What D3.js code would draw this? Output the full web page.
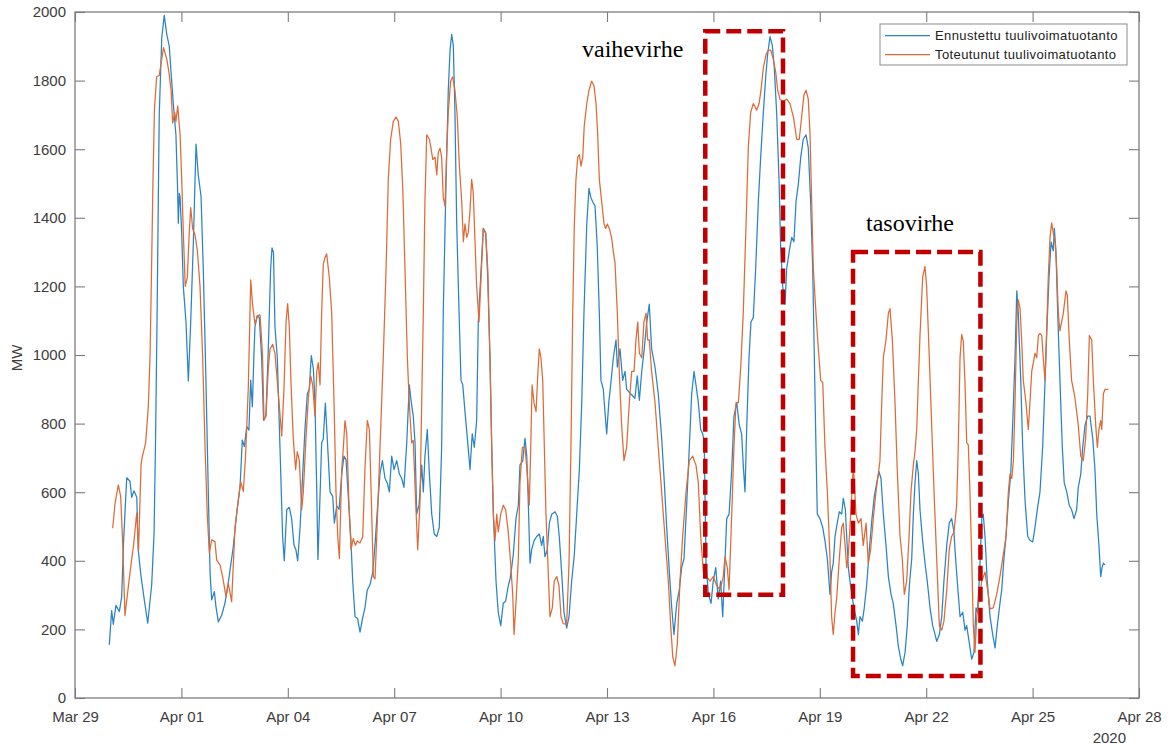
<!DOCTYPE html>
<html>
<head>
<meta charset="utf-8">
<script src="https://cdn.jsdelivr.net/npm/d3@7"></script>
<style>
  html, body { margin: 0; padding: 0; background: #fff; }
  svg { display: block; font-family: "Liberation Sans", Arial, Helvetica, sans-serif; }
</style>
</head>
<body>
<svg id="chart" width="1175" height="745"></svg>
<script>
// Wind power in Finland, hours counted from 29 Mar 2020 00:00 (UTC), values in MW

// Forecast (Ennustettu)
const forecastHours = [
  23.2, 24.8, 25.9, 27.7, 30.0, 31.6, 32.8, 35.0, 37.2, 38.4, 39.9, 41.8, 42.8, 44.7, 46.9, 49.2,
  51.9, 53.5, 54.5, 55.5, 57.0, 58.7, 60.4, 62.1, 63.8, 65.0, 66.5, 68.3, 69.5, 69.9, 70.6, 71.1,
  72.2, 73.3, 75.1, 76.7, 78.3, 80.1, 81.9, 83.4, 85.3, 86.8, 88.6, 90.2, 91.4, 92.5, 94.3, 95.4,
  97.0, 99.3, 101.5, 103.7, 107.1, 109.4, 111.7, 113.2, 114.6, 116.2, 117.7, 118.9, 120.0, 121.1, 121.8, 123.4,
  124.7, 126.3, 127.6, 129.2, 130.8, 132.4, 133.3, 134.3, 135.3, 136.9, 138.7, 140.5, 141.6, 143.3, 145.0, 146.6,
  148.2, 149.5, 150.7, 152.3, 153.8, 155.6, 157.2, 158.5, 159.9, 161.3, 162.4, 163.6, 164.4, 165.8, 166.9, 168.0,
  169.4, 170.7, 172.6, 174.4, 175.5, 177.1, 178.7, 180.5, 182.0, 183.4, 184.9, 186.6, 187.9, 189.5, 191.2, 192.9,
  194.7, 196.2, 197.8, 199.6, 201.5, 203.0, 204.6, 206.4, 208.0, 209.8, 211.3, 212.7, 214.3, 215.9, 217.7, 219.5,
  221.1, 222.6, 224.5, 226.2, 227.6, 228.9, 230.1, 231.2, 232.8, 234.6, 235.7, 236.8, 238.4, 239.8, 241.4, 243.1,
  244.8, 246.5, 248.1, 249.2, 251.1, 252.6, 253.8, 254.9, 256.0, 257.1, 258.3, 259.9, 261.2, 262.4, 263.9, 265.5,
  267.3, 268.8, 270.2, 271.8, 272.9, 274.5, 276.3, 277.9, 279.3, 280.8, 282.0, 283.1, 284.9, 286.4, 288.1, 289.8,
  291.4, 293.2, 294.4, 295.5, 296.6, 298.4, 300.0, 301.1, 303.0, 304.5, 305.7, 306.7, 307.9, 309.0, 310.6, 312.4,
  314.2, 315.8, 316.9, 318.0, 319.6, 321.0, 322.6, 324.8, 326.4, 327.7, 329.3, 330.9, 332.7, 334.3, 336.1, 337.9,
  339.5, 341.3, 342.9, 344.4, 346.3, 347.8, 349.0, 350.3, 351.9, 353.4, 354.8, 355.9, 357.5, 358.6, 359.8, 361.2,
  362.5, 364.3, 366.1, 367.0, 368.8, 370.6, 372.2, 373.3, 376.0, 378.9, 380.5, 381.9, 383.5, 385.2, 386.9, 388.6,
  390.2, 392.5, 394.7, 397.0, 398.8, 400.4, 402.2, 403.8, 405.3, 407.2, 408.9, 410.5, 412.1, 413.9, 415.7, 417.3,
  418.9, 420.2, 421.8, 423.4, 424.8, 425.8, 427.0, 428.6, 430.4, 431.9, 433.6, 435.3, 436.9, 438.3, 439.8, 441.0,
  442.6, 444.4, 445.9, 447.8, 449.5, 451.1, 452.2, 453.4, 454.5, 456.1, 457.4, 459.0, 460.6, 462.4, 464.0, 465.8,
  467.4, 468.7, 470.3, 471.9, 473.2, 474.8, 476.4, 477.5, 478.9, 480.5, 481.6, 483.4, 485.0, 486.5, 487.9, 489.5,
  491.1, 492.8, 494.7, 496.2, 497.8, 499.2, 500.3, 501.4, 502.3, 504.1, 506.0, 507.5, 509.1, 510.9, 512.0, 513.1,
  514.3, 515.8, 517.2, 518.8, 519.9, 521.3, 522.2, 523.3, 524.4, 525.6, 527.1, 529.0, 530.1, 531.2, 532.8, 534.1,
  535.7, 537.5, 539.3, 540.9, 542.5, 544.1, 545.4, 547.0, 548.8, 550.4, 552.2, 553.7, 555.6, 557.1, 558.8, 560.1,
  561.7, 563.2, 564.6, 566.2, 567.3, 568.4, 569.6, 570.7, 571.8, 573.6, 575.2, 576.7, 578.6, 580.4, 582.0, 583.1,
  584.9, 586.5, 588.0, 589.9, 591.6, 593.2, 594.8, 595.5, 597.0, 598.9, 600.7, 602.3, 603.4, 605.2, 606.8, 608.3,
  609.7, 610.6, 611.9, 613.6, 614.6, 615.8, 617.3, 619.2, 621.0, 622.6, 624.1, 625.9, 627.1, 628.6, 630.0, 631.6,
  633.2, 634.5, 636.1, 637.3, 638.3, 640.0, 641.3, 642.9, 644.7, 646.2, 648.1, 649.6, 651.2, 653.0, 654.8, 655.9,
  657.5, 659.1, 660.5, 662.0, 662.7, 663.8, 665.0, 666.5, 668.1, 669.4, 671.1, 672.8, 674.4, 676.0, 677.8, 678.9,
  680.6, 681.9, 683.5, 685.3, 686.8, 688.7, 690.2, 691.4, 692.9, 694.1, 695.0, 695.9, 697.0
];
const forecastMW = [
  155, 255, 215, 270, 252, 295, 450, 642, 632, 585, 604, 585, 431, 354, 286, 218,
  330, 480, 750, 1100, 1700, 1925, 1990, 1935, 1900, 1825, 1733, 1642, 1473, 1384, 1471, 1460,
  1356, 1200, 1096, 924, 1096, 1330, 1615, 1525, 1462, 1252, 926, 601, 364, 286, 310, 266,
  222, 242, 277, 335, 441, 538, 616, 752, 733, 791, 781, 927, 849, 1005, 1083, 1115,
  1109, 992, 810, 822, 1018, 1252, 1312, 1300, 1083, 992, 731, 471, 400, 549, 556, 523,
  445, 432, 400, 497, 627, 783, 887, 900, 998, 960, 861, 601, 404, 588, 744, 755,
  860, 757, 601, 588, 510, 560, 550, 653, 705, 695, 590, 471, 341, 237, 232, 192,
  235, 263, 315, 330, 367, 445, 549, 655, 692, 640, 627, 601, 705, 666, 692, 653,
  640, 614, 744, 913, 861, 822, 744, 536, 562, 679, 601, 705, 783, 653, 536, 478,
  471, 497, 731, 1122, 1512, 1772, 1889, 1935, 1902, 1707, 1382, 1122, 926, 913, 835, 757,
  666, 770, 731, 809, 1096, 1226, 1369, 1356, 1226, 992, 731, 536, 341, 250, 211, 276,
  282, 328, 347, 380, 419, 523, 562, 679, 692, 757, 705, 575, 393, 432, 458, 471,
  478, 445, 471, 412, 432, 510, 536, 543, 530, 471, 367, 250, 204, 237, 341, 419,
  536, 666, 861, 1122, 1382, 1486, 1460, 1447, 1434, 1317, 1122, 926, 900, 835, 770, 861,
  913, 992, 1044, 965, 1018, 926, 952, 900, 887, 874, 939, 868, 952, 1018, 1096, 1148,
  1018, 965, 887, 757, 627, 497, 367, 263, 185, 276, 315, 380, 406, 562, 731, 887,
  952, 913, 861, 783, 770, 744, 393, 302, 276, 341, 380, 289, 341, 237, 393, 523,
  536, 666, 822, 861, 796, 770, 679, 601, 783, 992, 1096, 1109, 1252, 1447, 1577, 1707,
  1811, 1876, 1928, 1902, 1837, 1707, 1512, 1317, 1200, 1148, 1252, 1304, 1343, 1330, 1447, 1499,
  1577, 1629, 1642, 1603, 1447, 1252, 992, 731, 536, 523, 497, 458, 406, 302, 367, 393,
  471, 510, 543, 536, 582, 549, 471, 380, 341, 302, 263, 224, 185, 237, 224, 263,
  328, 432, 523, 588, 627, 660, 640, 536, 445, 354, 302, 276, 211, 152, 113, 94,
  133, 211, 328, 406, 536, 627, 692, 653, 549, 458, 393, 341, 263, 211, 185, 165,
  185, 237, 341, 445, 510, 523, 484, 432, 341, 237, 250, 198, 211, 159, 113, 133,
  263, 250, 341, 523, 536, 471, 341, 237, 185, 146, 211, 276, 315, 406, 471, 575,
  653, 796, 992, 1187, 1122, 926, 731, 575, 471, 460, 455, 497, 549, 601, 731, 861,
  1057, 1226, 1330, 1304, 1369, 1304, 1122, 926, 731, 627, 601, 562, 549, 523, 549, 614,
  653, 731, 796, 822, 822, 757, 666, 536, 445, 354, 380, 393, 388
];

// Actual production (Toteutunut)
const actualHours = [
  25.5, 27.1, 29.3, 30.9, 32.3, 33.8, 36.1, 38.4, 39.5, 41.8, 43.0, 44.7, 45.5, 47.8, 49.6, 50.8,
  51.8, 52.8, 53.8, 55.3, 57.0, 58.7, 59.9, 62.1, 63.6, 65.0, 66.1, 67.5, 68.3, 69.5, 71.1, 72.2,
  73.3, 74.6, 76.0, 77.3, 78.3, 79.6, 81.2, 82.8, 84.6, 86.4, 88.0, 89.5, 90.9, 92.5, 94.7, 95.9,
  98.1, 99.9, 102.2, 103.7, 106.0, 108.3, 110.5, 112.1, 113.9, 115.5, 117.3, 118.9, 120.1, 121.8, 123.4, 125.2,
  126.9, 127.9, 129.2, 130.8, 132.0, 133.8, 135.3, 137.6, 139.9, 141.4, 142.8, 143.9, 145.0, 146.2, 147.7, 149.3,
  150.4, 151.8, 153.4, 154.5, 156.3, 157.9, 159.5, 160.8, 162.4, 163.6, 164.6, 165.8, 166.9, 168.0, 169.2, 170.3,
  172.1, 173.7, 175.3, 176.6, 177.8, 178.9, 180.5, 181.6, 182.7, 183.9, 185.4, 186.8, 188.3, 189.7, 191.0, 192.9,
  194.7, 196.2, 197.8, 199.2, 200.8, 201.9, 203.0, 204.2, 206.4, 208.6, 210.5, 212.0, 213.6, 215.4, 217.2, 218.8,
  220.4, 221.8, 223.3, 224.9, 226.2, 227.8, 228.9, 230.5, 231.9, 233.5, 234.6, 235.7, 236.8, 238.0, 239.8, 240.9,
  242.1, 243.6, 244.8, 245.8, 247.0, 248.1, 249.2, 250.4, 251.5, 252.6, 254.2, 255.6, 257.1, 258.7, 260.1, 261.7,
  262.8, 263.9, 265.1, 266.1, 267.3, 268.4, 269.5, 270.7, 271.8, 273.4, 274.5, 276.3, 277.9, 279.3, 280.8, 282.0,
  283.1, 284.2, 285.4, 286.4, 288.1, 289.8, 291.4, 293.2, 294.8, 296.2, 297.1, 298.4, 300.0, 301.1, 302.7, 304.5,
  306.1, 307.4, 308.4, 309.3, 310.6, 312.0, 313.1, 314.2, 315.3, 316.5, 317.6, 318.7, 319.9, 321.4, 323.0, 324.3,
  326.0, 327.5, 328.9, 330.4, 332.7, 334.3, 335.6, 336.8, 337.9, 339.0, 340.2, 341.3, 342.4, 343.6, 344.6, 346.3,
  347.8, 349.6, 351.2, 352.6, 353.7, 354.8, 356.4, 358.0, 359.1, 360.2, 361.6, 363.2, 364.3, 365.4, 367.0, 368.3,
  369.9, 371.5, 373.3, 375.1, 376.7, 378.3, 379.6, 380.8, 381.9, 383.5, 385.0, 386.4, 387.5, 388.6, 390.2, 392.5,
  394.7, 397.0, 399.2, 401.5, 403.1, 404.5, 406.0, 407.6, 409.4, 411.2, 413.5, 415.7, 418.0, 420.2, 421.8, 423.4,
  425.2, 427.5, 429.7, 431.9, 434.2, 436.5, 438.7, 439.8, 441.4, 442.6, 444.4, 445.9, 447.3, 448.9, 450.5, 452.2,
  454.1, 455.6, 457.2, 459.0, 461.3, 462.9, 464.2, 465.8, 467.6, 469.2, 470.8, 472.5, 474.2, 475.5, 477.1, 479.3,
  481.6, 483.8, 486.1, 488.4, 490.1, 491.7, 493.3, 494.7, 496.2, 497.4, 498.5, 499.6, 501.4, 503.0, 504.6, 506.0,
  507.5, 509.1, 510.9, 512.0, 513.1, 514.3, 515.4, 517.2, 518.8, 519.9, 521.1, 522.2, 523.3, 524.4, 526.7, 528.5,
  530.1, 531.9, 533.4, 535.3, 536.8, 538.4, 540.2, 542.0, 543.6, 544.7, 545.9, 547.0, 548.8, 550.4, 551.5, 553.1,
  554.9, 556.4, 558.3, 559.8, 561.2, 562.8, 564.4, 565.7, 567.3, 568.4, 569.6, 570.7, 571.8, 573.6, 575.2, 576.3,
  578.1, 579.7, 581.3, 583.1, 584.9, 586.5, 588.0, 589.9, 591.6, 593.2, 594.8, 596.6, 597.7, 598.9, 600.0, 601.1,
  602.3, 603.4, 604.5, 605.6, 606.8, 607.9, 609.0, 610.2, 611.9, 613.6, 615.8, 618.0, 619.2, 621.4, 623.7, 625.9,
  628.2, 630.0, 631.6, 632.7, 633.9, 635.0, 636.1, 637.3, 638.3, 639.5, 640.6, 641.7, 643.5, 645.1, 646.2, 647.4,
  648.5, 649.6, 650.8, 651.9, 653.0, 654.2, 655.2, 656.4, 657.5, 658.6, 659.8, 660.9, 662.0, 663.2, 664.3, 665.4,
  666.5, 668.8, 670.6, 671.5, 672.8, 674.4, 676.7, 678.9, 680.6, 682.3, 683.9, 685.3, 686.4, 688.0, 689.1, 690.7,
  691.8, 692.9, 694.1, 694.8, 695.9, 697.0, 699.2
];
const actualMW = [
  495, 567, 621, 588, 450, 240, 325, 406, 441, 540, 431, 680, 703, 743, 849, 1000,
  1250, 1520, 1720, 1812, 1815, 1863, 1896, 1863, 1824, 1772, 1676, 1707, 1681, 1726, 1642, 1512,
  1356, 1200, 1226, 1356, 1430, 1369, 1350, 1304, 1200, 992, 731, 536, 422, 461, 456, 402,
  388, 354, 295, 335, 281, 499, 577, 631, 602, 713, 908, 1219, 1150, 1090, 1115, 1117,
  1000, 810, 822, 960, 1018, 1031, 1005, 887, 764, 900, 1096, 1150, 1083, 913, 757, 666,
  718, 692, 549, 601, 757, 874, 939, 913, 822, 952, 978, 913, 1122, 1265, 1284, 1295,
  1226, 1122, 861, 601, 471, 406, 666, 731, 809, 770, 562, 432, 465, 445, 458, 452,
  471, 666, 809, 783, 536, 354, 347, 471, 731, 992, 1252, 1512, 1629, 1681, 1694, 1681,
  1616, 1486, 1252, 992, 861, 744, 751, 575, 432, 575, 861, 1122, 1447, 1642, 1629, 1603,
  1570, 1577, 1525, 1590, 1603, 1577, 1460, 1434, 1590, 1707, 1798, 1811, 1772, 1694, 1551, 1447,
  1330, 1382, 1343, 1356, 1421, 1512, 1473, 1330, 1200, 1096, 1200, 1369, 1356, 1252, 992, 731,
  536, 458, 536, 484, 536, 562, 549, 484, 393, 302, 185, 276, 406, 627, 731, 731,
  653, 562, 731, 913, 861, 835, 939, 1018, 992, 926, 731, 536, 406, 237, 263, 341,
  354, 328, 237, 217, 215, 393, 731, 1122, 1382, 1512, 1577, 1584, 1551, 1577, 1668, 1733,
  1772, 1798, 1785, 1733, 1642, 1512, 1447, 1382, 1369, 1382, 1369, 1340, 1300, 1270, 1122, 952,
  796, 692, 731, 861, 952, 952, 1044, 1096, 1005, 992, 1096, 1122, 1044, 1044, 952, 861,
  731, 601, 471, 341, 211, 120, 94, 159, 341, 471, 601, 692, 705, 679, 627, 471,
  367, 354, 341, 354, 328, 315, 354, 412, 380, 315, 536, 731, 861, 861, 965, 1122,
  1382, 1603, 1707, 1733, 1714, 1733, 1772, 1837, 1876, 1889, 1889, 1863, 1824, 1772, 1745, 1740,
  1746, 1733, 1694, 1629, 1629, 1694, 1759, 1772, 1746, 1642, 1447, 1252, 1122, 1018, 926, 920,
  731, 601, 406, 237, 185, 250, 289, 406, 497, 510, 445, 380, 419, 497, 679, 536,
  510, 523, 445, 510, 393, 432, 523, 601, 653, 692, 861, 992, 1044, 1122, 1135, 1044,
  861, 666, 471, 406, 302, 341, 471, 601, 679, 718, 783, 926, 1057, 1226, 1258, 1200,
  992, 796, 601, 406, 211, 198, 224, 315, 432, 471, 484, 562, 731, 992, 1060, 1040,
  913, 744, 738, 601, 406, 211, 133, 237, 289, 341, 367, 302, 260, 263, 302, 354,
  419, 471, 601, 653, 640, 692, 861, 1096, 1161, 1135, 1044, 926, 861, 783, 861, 952,
  978, 1005, 992, 1057, 1063, 1057, 992, 926, 1070, 1226, 1343, 1385, 1356, 1330, 1252, 1122,
  1070, 1122, 1187, 1174, 1044, 926, 874, 796, 705, 692, 757, 887, 1057, 1044, 926, 796,
  731, 783, 809, 783, 887, 900, 900
];

const seriesNames = ["Ennustettu tuulivoimatuotanto", "Toteutunut tuulivoimatuotanto"];
const yTickValues = [0, 200, 400, 600, 800, 1000, 1200, 1400, 1600, 1800, 2000];
const xTickDays = [0, 3, 6, 9, 12, 15, 18, 21, 24, 27, 30];

// Highlighted error regions: hour span and MW span, with label anchor
const errorRegions = [
  { label: "vaihevirhe", h0: 426.5, h1: 479.1, v0: 301, v1: 1944, labelH: 343.1, labelV: 1869 },
  { label: "tasovirhe",  h0: 526.5, h1: 612.7, v0: 64,  v1: 1300, labelH: 535.3, labelV: 1361 }
];

// ---------------------------------------------------------------
const colors = ["#2a84c3", "#dd6b37"];
const axisColor = "#7d7d7d";
const textColor = "#3c3c3c";
const plot = { left: 75, right: 1139, top: 12, bottom: 698 };

const t0 = Date.UTC(2020, 2, 29);
const hourToDate = h => new Date(t0 + h * 3600000);

const x = d3.scaleUtc()
  .domain([hourToDate(0), hourToDate(30 * 24)])
  .range([plot.left, plot.right]);
const y = d3.scaleLinear()
  .domain([0, 2000])
  .range([plot.bottom, plot.top]);

const svg = d3.select("#chart");
svg.append("rect").attr("width", 1175).attr("height", 745).attr("fill", "#fff");

svg.append("defs").append("clipPath").attr("id", "plotClip")
  .append("rect")
  .attr("x", plot.left).attr("y", plot.top)
  .attr("width", plot.right - plot.left).attr("height", plot.bottom - plot.top);

const xTicks = xTickDays.map(d => hourToDate(d * 24));

function styleAxis(g) {
  g.select(".domain").remove();
  g.selectAll(".tick line").attr("stroke", axisColor).attr("stroke-width", 1.1);
  g.selectAll(".tick text")
    .attr("fill", textColor)
    .style("font-size", "15px")
    .style("font-family", '"Liberation Sans", Arial, sans-serif');
}

// bottom axis with date labels
svg.append("g")
  .attr("transform", `translate(0,${plot.bottom})`)
  .call(d3.axisBottom(x).tickValues(xTicks).tickFormat(d3.utcFormat("%b %d"))
    .tickSizeInner(-10).tickSizeOuter(0).tickPadding(13))
  .call(styleAxis);

// top axis, ticks only
svg.append("g")
  .attr("transform", `translate(0,${plot.top})`)
  .call(d3.axisTop(x).tickValues(xTicks).tickFormat("")
    .tickSizeInner(-10).tickSizeOuter(0))
  .call(styleAxis);

// left axis with values
svg.append("g")
  .attr("transform", `translate(${plot.left},0)`)
  .call(d3.axisLeft(y).tickValues(yTickValues).tickFormat(d3.format("d"))
    .tickSizeInner(-10).tickSizeOuter(0).tickPadding(9))
  .call(styleAxis);

// right axis, ticks only
svg.append("g")
  .attr("transform", `translate(${plot.right},0)`)
  .call(d3.axisRight(y).tickValues(yTickValues).tickFormat("")
    .tickSizeInner(-10).tickSizeOuter(0))
  .call(styleAxis);

// axes box
svg.append("rect")
  .attr("x", plot.left).attr("y", plot.top)
  .attr("width", plot.right - plot.left).attr("height", plot.bottom - plot.top)
  .attr("fill", "none").attr("stroke", axisColor).attr("stroke-width", 1.3);

// year label and unit
svg.append("text")
  .attr("x", 1126).attr("y", 743)
  .attr("text-anchor", "end")
  .attr("fill", textColor).style("font-size", "15px")
  .text("2020");

svg.append("text")
  .attr("transform", "translate(22,358) rotate(-90)")
  .attr("text-anchor", "middle")
  .attr("fill", textColor).style("font-size", "15px")
  .text("MW");

// series lines
const line = d3.line()
  .x(d => x(hourToDate(d[0])))
  .y(d => y(d[1]));

const series = [
  d3.zip(forecastHours, forecastMW),
  d3.zip(actualHours, actualMW)
];

const lines = svg.append("g").attr("clip-path", "url(#plotClip)");
series.forEach((pts, i) => {
  lines.append("path")
    .datum(pts)
    .attr("fill", "none")
    .attr("stroke", colors[i])
    .attr("stroke-width", 1.25)
    .attr("stroke-linejoin", "round")
    .attr("d", line);
});

// highlighted error regions
const regions = svg.append("g");
errorRegions.forEach(r => {
  const x0 = x(hourToDate(r.h0)), x1 = x(hourToDate(r.h1));
  const y0 = y(r.v1), y1 = y(r.v0);
  regions.append("rect")
    .attr("x", x0).attr("y", y0)
    .attr("width", x1 - x0).attr("height", y1 - y0)
    .attr("fill", "none")
    .attr("stroke", "#c00000")
    .attr("stroke-width", 4.5)
    .attr("stroke-dasharray", "15,6");
  regions.append("text")
    .attr("x", x(hourToDate(r.labelH)))
    .attr("y", y(r.labelV))
    .attr("fill", "#000")
    .style("font-family", '"Liberation Serif", "Times New Roman", serif')
    .style("font-size", "24px")
    .text(r.label);
});

// legend
const legend = svg.append("g");
legend.append("rect")
  .attr("x", 880).attr("y", 24).attr("width", 247).attr("height", 41)
  .attr("fill", "#fff").attr("stroke", "#8c8c8c").attr("stroke-width", 1);
seriesNames.forEach((name, i) => {
  const cy = 35.5 + i * 19;
  legend.append("line")
    .attr("x1", 885).attr("x2", 930).attr("y1", cy).attr("y2", cy)
    .attr("stroke", colors[i]).attr("stroke-width", 1.25);
  legend.append("text")
    .attr("x", 935).attr("y", cy).attr("dy", "0.35em")
    .attr("fill", "#222")
    .style("font-size", "13px")
    .style("letter-spacing", "0.4px")
    .text(name);
});
</script>
</body>
</html>
